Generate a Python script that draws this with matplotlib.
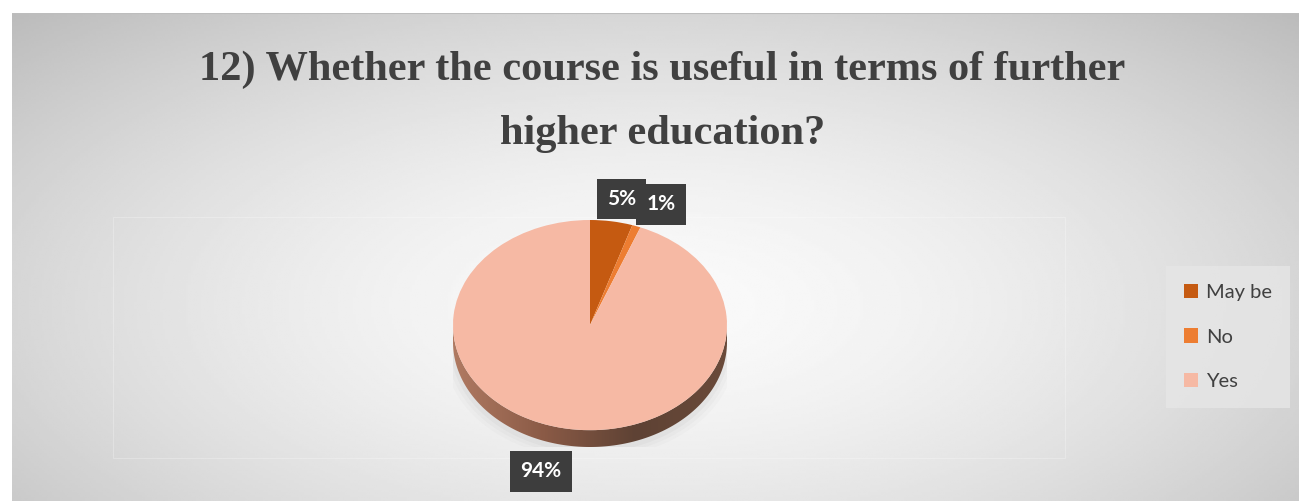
import numpy as np
import matplotlib.pyplot as plt
from matplotlib.patches import Polygon
from matplotlib.colors import LinearSegmentedColormap

# Datos del gráfico
categorias = ['May be', 'No', 'Yes']
porcentajes = [5, 1, 94]
etiquetas = ['5%', '1%', '94%']
colores = ['#c55a11', '#ed7d31', '#f6b9a4']
titulo = '12) Whether the course is useful in terms of further\nhigher education?'

W, H = 1299, 501
fig = plt.figure(figsize=(W / 100, H / 100), dpi=100)
fig.patch.set_facecolor('white')

# Fondo con degradado radial
bg = fig.add_axes([12 / W, 0, (W - 12) / W, (H - 13) / H])
yy, xx = np.mgrid[0:1:200j, 0:1:500j]
r = np.sqrt(((xx - 0.5) / 0.75) ** 2 + ((yy - 0.6) / 0.9) ** 2)
grad = np.clip(0.98 - 0.27 * r ** 1.6, 0, 1)
bg.imshow(grad, cmap='gray', vmin=0, vmax=1, aspect='auto', extent=[0, 1, 0, 1])
bg.axhline(1, color='#bdbdbd', lw=1.5)
bg.set_xlim(0, 1)
bg.set_ylim(0, 1)
bg.axis('off')
# marco tenue del área de trazado
bg.add_patch(plt.Rectangle(((113 - 12) / (W - 12), 43 / (H - 13)), 952 / (W - 12), 241 / (H - 13),
                           fill=False, ec='white', lw=0.6, alpha=0.3))

fig.text(0.51, 0.90, titulo, ha='center', va='top', fontsize=30.5, fontweight='bold',
         family='Liberation Serif', color='#404040', linespacing=1.9)

# Pastel en perspectiva
d = 0.16
ax = fig.add_axes([453 / W, (H - 447) / H, 274 / W, 227 / H])

# lateral (canto) con degradado
t = np.linspace(np.pi, 2 * np.pi, 200)
arriba = np.column_stack([np.cos(t), np.sin(t)])
abajo = np.column_stack([np.cos(t[::-1]), np.sin(t[::-1]) - d])
canto = Polygon(np.vstack([arriba, abajo]), closed=True, fc='none', ec='none')
ax.add_patch(canto)
cmap_canto = LinearSegmentedColormap.from_list('c', ['#b07a62', '#8a5a46', '#5e4234', '#6a4a3a'])
im = ax.imshow(np.linspace(0, 1, 300)[None, :], cmap=cmap_canto, aspect='auto',
               extent=[-1, 1, -1 - d, 0], zorder=1)
im.set_clip_path(canto)

# sombra suave
for k, a in enumerate([0.05, 0.04, 0.03]):
    sh = Polygon(np.column_stack([1.02 * np.cos(t) * (1 + 0.02 * k), 1.02 * np.sin(t) - d - 0.03 * (k + 1)]),
                 closed=True, fc='#7a7a7a', ec='none', alpha=a, zorder=0)
    ax.add_patch(sh)

cuñas, _ = ax.pie(porcentajes, colors=colores, startangle=90, counterclock=False,
                  radius=1, wedgeprops=dict(linewidth=0), frame=True)
for w in cuñas:
    w.set_zorder(2)
ax.set_aspect('auto')
ax.set_xlim(-1, 1)
ax.set_ylim(-1 - d, 1)
ax.axis('off')

# etiquetas de datos
pos_etiquetas = [(0.23, 1.2), (0.52, 1.15), (-0.36, -1.39)]
for (x, y), txt in zip(pos_etiquetas, etiquetas):
    ax.text(x, y, txt, ha='center', va='center', fontsize=15, fontweight='bold',
            family='Lato', color='white', zorder=5, clip_on=False,
            bbox=dict(boxstyle='square,pad=0.5', fc='#3d3d3d', ec='none'))

# leyenda
leg = fig.legend(cuñas, categorias, loc='center', bbox_to_anchor=(1228 / W, (H - 337) / H),
                 frameon=True, handlelength=0.7, handleheight=0.7,
                 labelspacing=1.35, handletextpad=0.4, borderpad=0.9,
                 prop={'family': 'Lato', 'size': 14.5})
leg.get_frame().set_facecolor('#e6e6e6')
leg.get_frame().set_edgecolor('none')
leg.get_frame().set_alpha(0.8)
leg.get_frame().set_boxstyle('square', pad=0)
for t_ in leg.get_texts():
    t_.set_color('#404040')

fig.savefig('out.png', dpi=100)
